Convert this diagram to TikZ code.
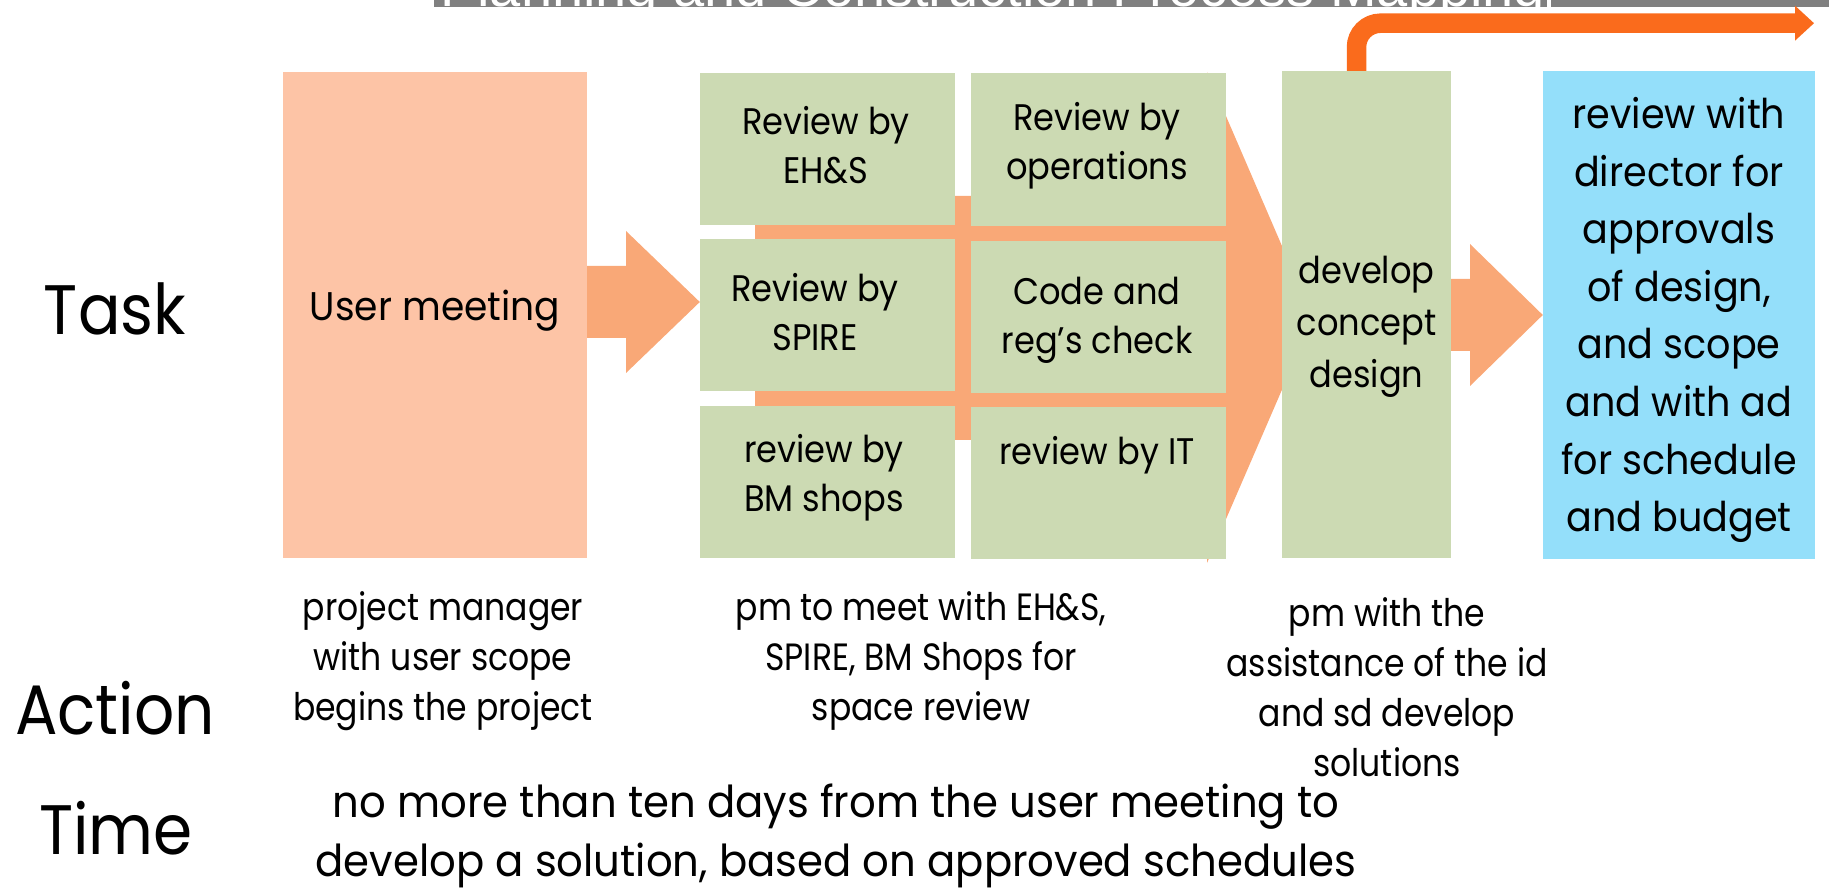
\documentclass[tikz,border=0pt]{standalone}
\usepackage{fontspec}
\setmainfont{Poppins}
\newfontfamily\fnA[FakeStretch=0.9]{Poppins}
\newfontfamily\fnG[FakeStretch=0.91]{Poppins}
\newfontfamily\fnU[FakeStretch=0.94]{Poppins}
\newfontfamily\fnBl[FakeStretch=0.93]{Poppins}
\newfontfamily\fnB[FakeStretch=0.87]{Poppins}
\newfontfamily\fnT[FakeStretch=0.95]{Poppins}
\newfontfamily\titlefnt{Liberation Sans}
\definecolor{peach}{HTML}{FDC4A6}
\definecolor{arrowpeach}{HTML}{F9A877}
\definecolor{sage}{HTML}{CCDAB3}
\definecolor{skyblue}{HTML}{94DFFA}
\definecolor{brightorange}{HTML}{FA6B1C}
\definecolor{titlegray}{HTML}{808080}
\begin{document}
\begin{tikzpicture}[x=1pt,y=-1pt,
  panel/.style={rectangle, inner sep=0pt, draw=none, align=center, text=black},
  greenbox/.style={panel, fill=sage, minimum width=255pt},
  boxtext/.style={inner sep=0pt, font=\fnG\fontsize{37}{49}\selectfont},
  devtext/.style={inner sep=0pt, font=\fnG\fontsize{37}{52}\selectfont},
  umtext/.style={inner sep=0pt, font=\fnU\fontsize{40}{49}\selectfont},
  bluetext/.style={inner sep=0pt, font=\fnBl\fontsize{41}{57.6}\selectfont},
  actiontext/.style={align=center, inner sep=0pt, font=\fnB\fontsize{38}{50}\selectfont},
  timetext/.style={align=center, inner sep=0pt, font=\fnT\fontsize{44}{59}\selectfont},
  rowlabel/.style={inner sep=0pt, font=\fnA\fontsize{70}{80}\selectfont},
  blockarrow/.style={fill=arrowpeach, draw=none}
]
\useasboundingbox (0,0) rectangle (1829,890);

% title bar (cut off at top)
\fill[titlegray] (434,0) rectangle (1829,7.3);
\fill[white] (1547,0) rectangle (1551,7.3);
\begin{scope}
  \clip (434,0) rectangle (1547,7.3);
  \node[anchor=base west, inner sep=0pt, text=white, font=\titlefnt\fontsize{56}{60}\selectfont] (title) at (440,6.3) {Planning and Construction Process Mapping};
\end{scope}

% big block arrow behind the review grid
\fill[blockarrow] (755,196) -- (1207,196) -- (1207,72) -- (1313,318) -- (1207,563) -- (1207,440) -- (755,440) -- cycle;

% boxes
\node[panel, fill=peach, minimum width=304pt, minimum height=486pt] (um) at (435,315) {};
\node[umtext, anchor=center] (umt) at (435,311) {User meeting};

\node[greenbox, minimum height=152pt] (g11) at (827.5,149) {};
\node[greenbox, minimum height=152pt] (g21) at (827.5,315) {};
\node[greenbox, minimum height=152pt] (g31) at (827.5,482) {};
\node[greenbox, minimum height=153pt] (g12) at (1098.5,149.5) {};
\node[greenbox, minimum height=152pt] (g22) at (1098.5,317) {};
\node[greenbox, minimum height=152pt] (g32) at (1098.5,483) {};

\node[boxtext, align=center] (t11) at (826,145) {Review by\\EH\&S};
\node[boxtext, align=center] (t21) at (815,312) {Review by\\SPIRE};
\node[boxtext, align=center] (t31) at (824,478) {review by\\BM shops};
\node[boxtext, align=center] (t12) at (1097,146) {Review by\\operations};
\node[boxtext, align=center] (t22) at (1097,320) {Code and\\reg’s check};
\node[boxtext, align=center] (t32) at (1097,455) {review by IT};

\node[panel, fill=sage, minimum width=169pt, minimum height=487pt] (dev) at (1366.5,314.5) {};
\node[devtext, align=center] (devt) at (1366.5,327) {develop\\concept\\design};

\node[panel, fill=skyblue, minimum width=272pt, minimum height=488pt] (rev) at (1679,315) {};
\node[bluetext, align=center] (revt) at (1679,320) {review with\\director for\\approvals\\of design,\\and scope\\and with ad\\for schedule\\and budget};

% block arrows between stages
\fill[blockarrow] (um.east |- 0,266) -- (626,266) -- (626,231) -- (g21.west |- 0,302) -- (626,373) -- (626,338) -- (um.east |- 0,338) -- cycle;
\fill[blockarrow] (dev.east |- 0,279) -- (1470,279) -- (1470,244) -- (rev.west |- 0,315) -- (1470,386) -- (1470,351) -- (dev.east |- 0,351) -- cycle;

% bright orange arrow leaving the top
\coordinate (bend) at (1356.5,23.2);
\coordinate (headbase) at (1795,23.2);
\draw[brightorange, line width=19.5pt, rounded corners=24pt] (dev.north -| bend) -- (bend) -- (headbase);
\fill[brightorange] (1795,5.7) -- (1814,23.2) -- (1795,40.7) -- cycle;

% row labels
\node[rowlabel] (task) at (115,309) {Task};
\node[rowlabel] (action) at (115,708) {Action};
\node[rowlabel] (time) at (116,828) {Time};

% action texts
\node[actiontext] (a1) at (443,661) {project manager\\with user scope\\begins the project};
\node[actiontext] (a2) at (921,661) {pm to meet with EH\&S,\\SPIRE, BM Shops for\\space review};
\node[actiontext] (a3) at (1387,687) {pm with the\\assistance of the id\\and sd develop\\solutions};

% time text
\node[timetext] (tt) at (836,836) {no more than ten days from the user meeting to\\develop a solution, based on approved schedules};
\end{tikzpicture}
\end{document}
